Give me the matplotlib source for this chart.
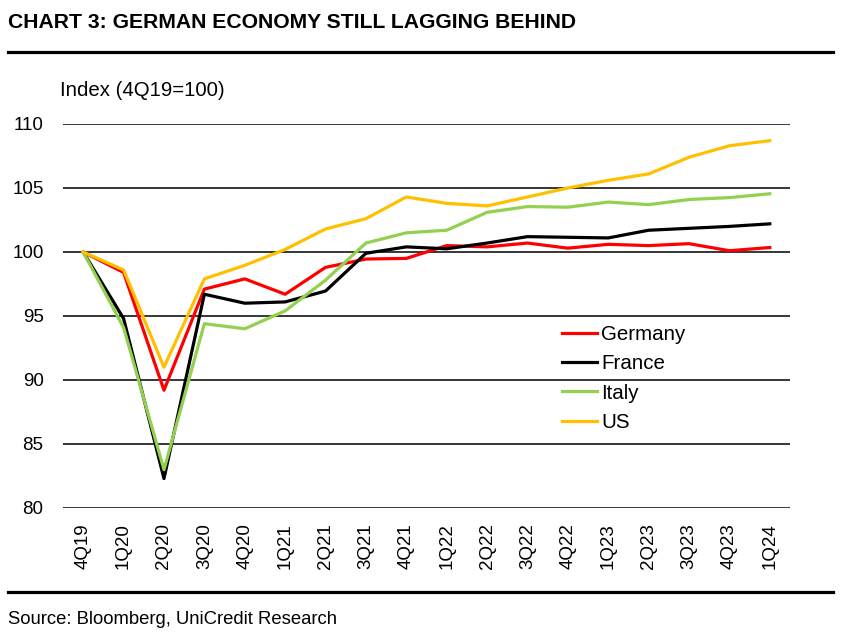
import matplotlib.pyplot as plt

plt.rcParams['font.family'] = ['Liberation Sans', 'DejaVu Sans']

quarters = ['4Q19', '1Q20', '2Q20', '3Q20', '4Q20', '1Q21', '2Q21', '3Q21', '4Q21',
            '1Q22', '2Q22', '3Q22', '4Q22', '1Q23', '2Q23', '3Q23', '4Q23', '1Q24']
germany = [100, 98.4, 89.2, 97.1, 97.9, 96.7, 98.8, 99.45, 99.5,
           100.5, 100.4, 100.7, 100.3, 100.6, 100.5, 100.65, 100.1, 100.35]
france = [100, 94.8, 82.3, 96.7, 96.0, 96.1, 96.95, 99.9, 100.4,
          100.25, 100.7, 101.2, 101.15, 101.1, 101.7, 101.85, 102.0, 102.2]
italy = [100, 94.1, 83.0, 94.4, 94.0, 95.4, 97.8, 100.7, 101.5,
         101.7, 103.1, 103.55, 103.5, 103.9, 103.7, 104.1, 104.25, 104.55]
us = [100, 98.6, 91.0, 97.9, 98.96, 100.2, 101.8, 102.6, 104.3,
      103.8, 103.6, 104.3, 105.0, 105.6, 106.1, 107.4, 108.3, 108.7]

fig = plt.figure(figsize=(8.48, 6.4), dpi=100)
ax = fig.add_axes([63/848, 1-508/640, (790-63)/848, (508-124)/640])

x = range(len(quarters))
ax.plot(x, germany, color='#FF0000', lw=2.3, label='Germany')
ax.plot(x, france, color='black', lw=2.3, label='France')
ax.plot(x, italy, color='#92D050', lw=2.3, label='Italy')
ax.plot(x, us, color='#FFC000', lw=2.3, label='US')

ax.set_xlim(-0.5, 17.5)
ax.set_ylim(80, 110)
ax.set_yticks(range(80, 111, 5))
ax.yaxis.grid(True, color='black', lw=1.1)
ax.set_axisbelow(True)
for s in ax.spines.values():
    s.set_visible(False)
ax.set_xticks(list(x))
ax.set_xticklabels(quarters, rotation=90)
ax.tick_params(axis='both', length=0, labelsize=13.5)
ax.tick_params(axis='x', pad=11)
ax.tick_params(axis='y', pad=14)

# legend sits in the lower right part of the plot
leg = ax.legend(loc='upper left', bbox_to_anchor=((562-63)/727, 1-(325-124)/384),
                frameon=False, fontsize=14.8, handlelength=1.7, labelspacing=0.5,
                handletextpad=0.2, borderaxespad=0, borderpad=0)

fig.text(60/848, 1-90/640, 'Index (4Q19=100)', fontsize=14.7, va='center')
fig.text(8/848, 1-22/640, 'CHART 3: GERMAN ECONOMY STILL LAGGING BEHIND',
         fontsize=15.2, fontweight='bold', va='center')
fig.text(8/848, 1-620/640, 'Source: Bloomberg, UniCredit Research', fontsize=13.3, va='center')
fig.add_artist(plt.Line2D([8/848, 833/848], [1-51.5/640, 1-51.5/640], color='black', lw=2.3))
fig.add_artist(plt.Line2D([8/848, 833/848], [1-592/640, 1-592/640], color='black', lw=2.3))

fig.savefig('out.png', dpi=100)
